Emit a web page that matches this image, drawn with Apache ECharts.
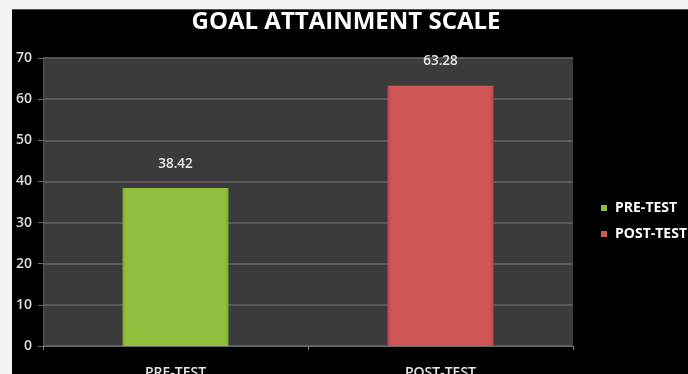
<!DOCTYPE html>
<html><head><meta charset="utf-8">
<script src="https://cdn.jsdelivr.net/npm/echarts@6/dist/echarts.min.js"></script>
<style>
html,body{margin:0;padding:0;background:#fff;}
#c{width:688px;height:374px;}
</style></head>
<body><div id="c"></div>
<script>
const categories = ['PRE-TEST', 'POST-TEST'];
const seriesNames = ['PRE-TEST', 'POST-TEST'];
const preValues = [38.42, null];
const postValues = [null, 63.28];
const yTicks = [0, 10, 20, 30, 40, 50, 60, 70];

const chart = echarts.init(document.getElementById('c'));
function grad(edge, mid) {
  return new echarts.graphic.LinearGradient(0, 0, 1, 0, [
    {offset: 0, color: edge}, {offset: 0.03, color: mid}, {offset: 0.97, color: mid}, {offset: 1, color: edge}
  ]);
}
const labelCfg = {show: true, position: 'top', distance: 17, color: '#e6e6e6', fontSize: 13.5, fontWeight: 600, fontFamily: 'Open Sans', formatter: p => p.value.toFixed(2)};
const G = {left: 43, right: 115, top: 58, bottom: 28, outerBoundsMode: 'none', containLabel: false};
chart.setOption({
  backgroundColor: '#000',
  title: {text: 'GOAL ATTAINMENT SCALE', left: 341, textAlign: 'center', top: 5,
    textStyle: {color: '#fff', fontSize: 24, fontWeight: 'bold', fontFamily: 'Open Sans'}},
  legend: {orient: 'vertical', left: 596, top: 196, itemWidth: 6, itemHeight: 6, itemGap: 12, icon: 'rect',
    textStyle: {color: '#fff', fontSize: 14, fontWeight: 'bold', fontFamily: 'Open Sans', padding: [0, 0, 0, 3]}, data: seriesNames},
  grid: G,
  xAxis: {type: 'category', data: categories,
    axisLine: {show: true, lineStyle: {color: '#6a6a6a'}},
    axisTick: {show: true, alignWithLabel: false, length: 4, lineStyle: {color: '#8a8a8a'}},
    axisLabel: {color: '#e6e6e6', fontSize: 14, fontWeight: 600, margin: 20, fontFamily: 'Open Sans'}},
  yAxis: {type: 'value', min: 0, max: 70, interval: 10,
    axisLine: {show: true, lineStyle: {color: '#555'}},
    axisTick: {show: true, length: 5, lineStyle: {color: '#6a6a6a'}},
    splitLine: {show: true, lineStyle: {color: '#666', width: 1.5}},
    axisLabel: {color: '#dcdcdc', fontSize: 14, margin: 11, fontFamily: 'Open Sans', fontWeight: 600,
      formatter: v => yTicks.includes(v) ? String(v) : ''}},
  series: [
    {name: seriesNames[0], type: 'bar', data: preValues, barWidth: '40%', barGap: '-100%',
      itemStyle: {color: grad('#7fa834', '#8fbf3d')},
      label: labelCfg},
    {name: seriesNames[1], type: 'bar', data: postValues, barWidth: '40%', barGap: '-100%',
      itemStyle: {color: grad('#b84646', '#d05555')},
      label: labelCfg}
  ],
  graphic: {elements: [
    {type: 'rect', z: -1, shape: {x: G.left, y: G.top, width: 688 - G.left - G.right, height: 374 - G.top - G.bottom}, style: {fill: '#3b3b3b'}},
    {type: 'rect', left: 0, top: 0, z: 100, shape: {width: 688, height: 9}, style: {fill: '#f4f4f4'}},
    {type: 'rect', left: 0, top: 9, z: 100, shape: {width: 688, height: 1}, style: {fill: '#555'}},
    {type: 'rect', left: 0, top: 0, z: 100, shape: {width: 12, height: 374}, style: {fill: '#f4f4f4'}}
  ]}
});
</script></body></html>
